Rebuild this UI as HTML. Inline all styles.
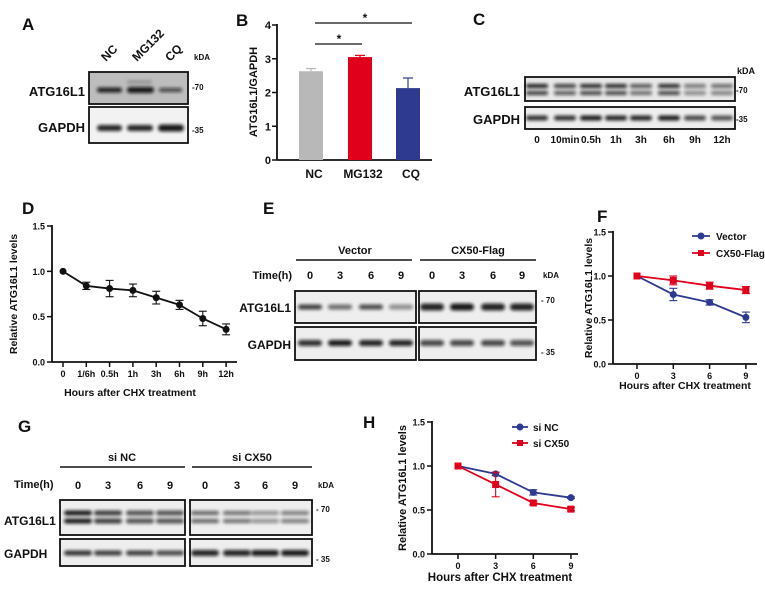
<!DOCTYPE html>
<html><head><meta charset="utf-8"><style>
html,body{margin:0;padding:0;background:#fff}
svg text{font-family:"Liberation Sans",Arial,sans-serif;font-weight:bold;fill:#111}
</style></head><body>
<svg id="fig" width="765" height="588" viewBox="0 0 765 588" xmlns="http://www.w3.org/2000/svg">
<defs>
<filter id="bl" x="-30%" y="-100%" width="160%" height="300%"><feGaussianBlur stdDeviation="1.6"/></filter>
</defs>
<g id="root"></g>
</svg>
<script>
// ---- Panel B data ----
const bCats=["NC","MG132","CQ"];
const bVals=[2.63,3.05,2.13];
const bErr=[0.08,0.05,0.3];
const bTicks=[0,1,2,3,4];
// ---- Panel D data ----
const dCats=["0","1/6h","0.5h","1h","3h","6h","9h","12h"];
const dVals=[1.0,0.84,0.81,0.79,0.71,0.63,0.48,0.36];
const dErr=[0,0.04,0.09,0.07,0.07,0.05,0.08,0.06];
const lineTicks=[0.0,0.5,1.0,1.5];
// ---- Panel F data ----
const fHours=[0,3,6,9];
const fVector=[1.0,0.79,0.70,0.53];
const fVectorErr=[0,0.07,0.03,0.06];
const fCX50=[1.0,0.95,0.89,0.84];
const fCX50Err=[0,0.05,0.04,0.04];
// ---- Panel H data ----
const hHours=[0,3,6,9];
const hSiNC=[1.0,0.91,0.70,0.64];
const hSiNCErr=[0,0.02,0.03,0.01];
const hSiCX50=[1.0,0.79,0.58,0.51];
const hSiCX50Err=[0,0.14,0.02,0.02];

const NS="http://www.w3.org/2000/svg";
const root=document.getElementById('root');
function mk(tag,attrs,parent,txt){const e=document.createElementNS(NS,tag);for(const k in attrs)e.setAttribute(k,attrs[k]);if(txt!==undefined)e.textContent=txt;(parent||root).appendChild(e);return e;}
function T(x,y,s,size,anchor,parent,name){const t=mk('text',{x:x,y:y,'font-size':size,'text-anchor':anchor||'start'},parent,s);

return t;}
function L(x1,y1,x2,y2,parent,w,c){return mk('line',{x1,y1,x2,y2,stroke:c||'#111','stroke-width':w||1.5},parent);}

[["A",22,30],["B",236,26],["C",473,25],["D",22,214],["E",263,214],["F",597,222],["G",18,432],["H",363,428]].forEach(p=>{
  T(p[1],p[2],p[0],17,'start',null,'panel-letter-'+p[0].toLowerCase());
});

function blot(g,x,y,w,h,bg,bands,name){
  const gg=mk('g',{},g);
  
  
  mk('rect',{x,y,width:w,height:h,fill:bg,stroke:'#111','stroke-width':1.8},gg);
  bands.forEach(b=>{mk('rect',{x:b[0],y:b[1]-b[3]/2,width:b[2],height:b[3],rx:b[3]/2,fill:'#111','fill-opacity':b[4],filter:'url(#bl)'},gg);});
}
const gA=mk('g',{});
blot(gA,89,72,99,32,'#bdbdbd',[[97,90,25,5,0.9],[127,90,27,6,0.95],[159,90,23,4,0.7],[127,82,25,3,0.25]],'blot-a-atg16l1');
blot(gA,89,107,99,36,'#f2f2f2',[[97,128,25,6,0.9],[127,128,26,6,0.9],[158,128,26,7,0.95]],'blot-a-gapdh');
T(85,96,"ATG16L1",13,'end',gA,'row-label');T(85,132,"GAPDH",13,'end',gA,'row-label');
[["NC",106],["MG132",137],["CQ",170]].forEach(l=>{const t=T(l[1],62,l[0],12,'start',gA,'lane-label');t.setAttribute('transform',`rotate(-45 ${l[1]} 62)`);});
T(194,60,"kDA",8,'start',gA,'kda-label');T(192,90,"-70",8,'start',gA,'mw-70');T(192,133,"-35",8,'start',gA,'mw-35');

const gC=mk('g',{});
const cLanes=[537,565,591,616,641,669,695,722];
const cInt=[0.95,0.8,0.9,0.9,0.7,0.9,0.55,0.6];
blot(gC,525,77,210,24,'#e8e8e8',cLanes.flatMap((x,i)=>[[x-11,86,22,4,cInt[i]],[x-11,93,22,4,cInt[i]*0.85]]),'blot-c-atg16l1');
blot(gC,525,107,210,22,'#eeeeee',cLanes.map((x,i)=>[x-11,118,22,5,[0.85,0.85,0.95,0.9,0.9,0.95,0.75,0.7][i]]),'blot-c-gapdh');
T(520,96,"ATG16L1",13,'end',gC,'row-label');T(520,124,"GAPDH",13,'end',gC,'row-label');
["0","10min","0.5h","1h","3h","6h","9h","12h"].forEach((s,i)=>T(cLanes[i],143,s,10,'middle',gC,'lane-label'));
T(737,74,"kDA",9,'start',gC,'kda-label');T(736,93,"-70",8,'start',gC,'mw-70');T(736,122,"-35",8,'start',gC,'mw-35');

const gE=mk('g',{});
const eL=[310,340,371,401,432,462,493,522];
T(355,254,"Vector",11,'middle',gE,'group-label');L(296,260,412,260,gE,1.5);
T(478,254,"CX50-Flag",11,'middle',gE,'group-label');L(420,260,536,260,gE,1.5);
T(292,279,"Time(h)",11,'end',gE,'time-label');
["0","3","6","9","0","3","6","9"].forEach((s,i)=>T(eL[i],279,s,11,'middle',gE,'lane-label'));
T(543,278,"kDA",8,'start',gE,'kda-label');
blot(gE,295,291,121,32,'#eeeeee',[0.8,0.6,0.75,0.45].map((v,i)=>[eL[i]-12,307,24,5,v]),'blot-e-vector-atg16l1');
blot(gE,419,291,117,32,'#eeeeee',[0.9,0.95,0.9,0.9].map((v,i)=>[eL[i+4]-12,307,24,7,v]),'blot-e-cx50-atg16l1');
blot(gE,295,327,121,33,'#eeeeee',[0.85,0.95,0.9,0.9].map((v,i)=>[eL[i]-12,343,24,6,v]),'blot-e-vector-gapdh');
blot(gE,419,327,117,33,'#eeeeee',[0.75,0.75,0.75,0.7].map((v,i)=>[eL[i+4]-12,343,24,6,v]),'blot-e-cx50-gapdh');
T(291,312,"ATG16L1",12,'end',gE,'row-label');T(291,349,"GAPDH",12,'end',gE,'row-label');
T(541,303,"- 70",8,'start',gE,'mw-70');T(541,355,"- 35",8,'start',gE,'mw-35');

const gG=mk('g',{});
const gl=[78,108,140,170,205,237,265,295];
T(122,461,"si NC",11,'middle',gG,'group-label');L(60,467,185,467,gG,1.5);
T(252,461,"si CX50",11,'middle',gG,'group-label');L(192,467,312,467,gG,1.5);
T(14,488,"Time(h)",11,'start',gG,'time-label');
["0","3","6","9","0","3","6","9"].forEach((s,i)=>T(gl[i],489,s,11,'middle',gG,'lane-label'));
T(318,488,"kDA",8,'start',gG,'kda-label');
const gi=[0.95,0.8,0.7,0.7,0.65,0.6,0.45,0.55];
blot(gG,60,500,125,35,'#eeeeee',gl.slice(0,4).flatMap((x,i)=>[[x-14,513,28,5,gi[i]],[x-14,521,28,5,gi[i]]]),'blot-g-sinc-atg16l1');
blot(gG,190,500,122,35,'#eeeeee',gl.slice(4).flatMap((x,i)=>[[x-14,513,28,4,gi[i+4]],[x-14,521,28,4,gi[i+4]]]),'blot-g-sicx50-atg16l1');
blot(gG,60,539,125,27,'#eeeeee',[0.85,0.8,0.8,0.75].map((v,i)=>[gl[i]-14,553,28,5,v]),'blot-g-sinc-gapdh');
blot(gG,190,539,122,27,'#eeeeee',[0.9,0.9,0.95,0.95].map((v,i)=>[gl[i+4]-14,553,28,6,v]),'blot-g-sicx50-gapdh');
T(4,525,"ATG16L1",12,'start',gG,'row-label');T(4,558,"GAPDH",12,'start',gG,'row-label');
T(316,512,"- 70",8,'start',gG,'mw-70');T(316,562,"- 35",8,'start',gG,'mw-35');

const gB=mk('g',{});
const bY=v=>160-v*33.75, bX=[311,360,408], bCol=['#b8b8b8','#e0001b','#2e3a8f'];
L(277,24,277,160,gB,1.8);L(277,160,432,160,gB,1.8);
bTicks.forEach(t=>{L(272,bY(t),277,bY(t),gB,1.5);T(271,bY(t)+4,String(t),11,'end',gB,'y-tick-label');});
bVals.forEach((v,i)=>{
  const r=mk('rect',{x:bX[i]-12,y:bY(v),width:24,height:160-bY(v),fill:bCol[i]},gB);
  
  
  L(bX[i],bY(v),bX[i],bY(v+bErr[i]),gB,1.2,bCol[i]);L(bX[i]-5,bY(v+bErr[i]),bX[i]+5,bY(v+bErr[i]),gB,1.2,bCol[i]);
  T(bX[i]+3,178,bCats[i],12,'middle',gB,'x-tick-label');
});
L(315,44,362,44,gB,1.3);T(339,43,"*",12,'middle',gB,'sig-star');
L(315,23,412,23,gB,1.3);T(365,22,"*",12,'middle',gB,'sig-star');
const byt=T(0,0,"ATG16L1/GAPDH",11,'middle',gB,'y-axis-title');byt.setAttribute('transform','translate(257,92) rotate(-90)');

function lineChart(g,o){
  const yS=v=>o.y0-(o.y0-o.y15)*v/1.5;
  L(o.ax,o.y15-1,o.ax,o.y0,g,1.8);L(o.ax,o.y0,o.xEnd,o.y0,g,1.8);
  lineTicks.forEach(t=>{L(o.ax-5,yS(t),o.ax,yS(t),g,1.5);T(o.ax-7,yS(t)+3.5,t.toFixed(1),9,'end',g,'y-tick-label');});
  o.xs.forEach((xv,i)=>{const X=o.xS(xv);L(X,o.y0,X,o.y0+5,g,1.5);T(X,o.y0+15,o.xl[i],9,'middle',g,'x-tick-label');});
  T(o.tx,o.ty,"Hours after CHX treatment",o.tf,'middle',g,'x-axis-title');
  const yt=T(0,0,"Relative ATG16L1 levels",o.yf,'middle',g,'y-axis-title');yt.setAttribute('transform',`translate(${o.ytx},${(o.y0+o.y15)/2}) rotate(-90)`);
  o.series.forEach(s=>{
    const pts=s.v.map((v,i)=>[o.xS(o.xs[i]),yS(v)]);
    const pl=mk('polyline',{points:pts.map(p=>p.join(',')).join(' '),fill:'none',stroke:s.c,'stroke-width':1.8},g);
    
    
    s.v.forEach((v,i)=>{const X=pts[i][0],e=s.e[i];if(e>0){L(X,yS(v-e),X,yS(v+e),g,1.1,s.c);L(X-4,yS(v+e),X+4,yS(v+e),g,1.1,s.c);L(X-4,yS(v-e),X+4,yS(v-e),g,1.1,s.c);}
      let m;if(s.sq)m=mk('rect',{x:X-3.5,y:pts[i][1]-3.5,width:7,height:7,fill:s.c},g);else m=mk('circle',{cx:X,cy:pts[i][1],r:3.5,fill:s.c},g);
      
      });
  });
}
const gD=mk('g',{});
lineChart(gD,{ax:52,y0:362,y15:226,xEnd:237,xs:dCats.map((c,i)=>i),xl:dCats,xS:i=>63+i*23.3,tx:130,ty:396,tf:10.5,yf:10.5,ytx:17,
  series:[{name:'chx',v:dVals,e:dErr,c:'#111'}]});
const gF=mk('g',{});
lineChart(gF,{ax:613,y0:364,y15:232,xEnd:757,xs:fHours,xl:fHours.map(String),xS:h=>637+h*12.1,tx:685,ty:389,tf:10.5,yf:10.5,ytx:592,
  series:[{name:'vector',v:fVector,e:fVectorErr,c:'#2e3a8f'},{name:'cx50-flag',v:fCX50,e:fCX50Err,c:'#e0001b',sq:true}]});
L(692,236,710,236,gF,1.8,'#2e3a8f');mk('circle',{cx:701,cy:236,r:3.5,fill:'#2e3a8f'},gF);T(716,240,"Vector",10,'start',gF,'legend-vector');
L(692,253,710,253,gF,1.8,'#e0001b');mk('rect',{x:698,y:250,width:6,height:6,fill:'#e0001b'},gF);T(716,257,"CX50-Flag",10,'start',gF,'legend-cx50-flag');
const gH=mk('g',{});
lineChart(gH,{ax:432,y0:554,y15:422,xEnd:578,xs:hHours,xl:hHours.map(String),xS:h=>458+h*12.55,tx:500,ty:581,tf:11.5,yf:11,ytx:406,
  series:[{name:'si-nc',v:hSiNC,e:hSiNCErr,c:'#2e3a8f'},{name:'si-cx50',v:hSiCX50,e:hSiCX50Err,c:'#e0001b',sq:true}]});
L(512,427,528,427,gH,1.8,'#2e3a8f');mk('circle',{cx:520,cy:427,r:3.5,fill:'#2e3a8f'},gH);T(533,431,"si NC",10,'start',gH,'legend-si-nc');
L(512,443,528,443,gH,1.8,'#e0001b');mk('rect',{x:517,y:440,width:6,height:6,fill:'#e0001b'},gH);T(533,447,"si CX50",10,'start',gH,'legend-si-cx50');
</script>
</body></html>
